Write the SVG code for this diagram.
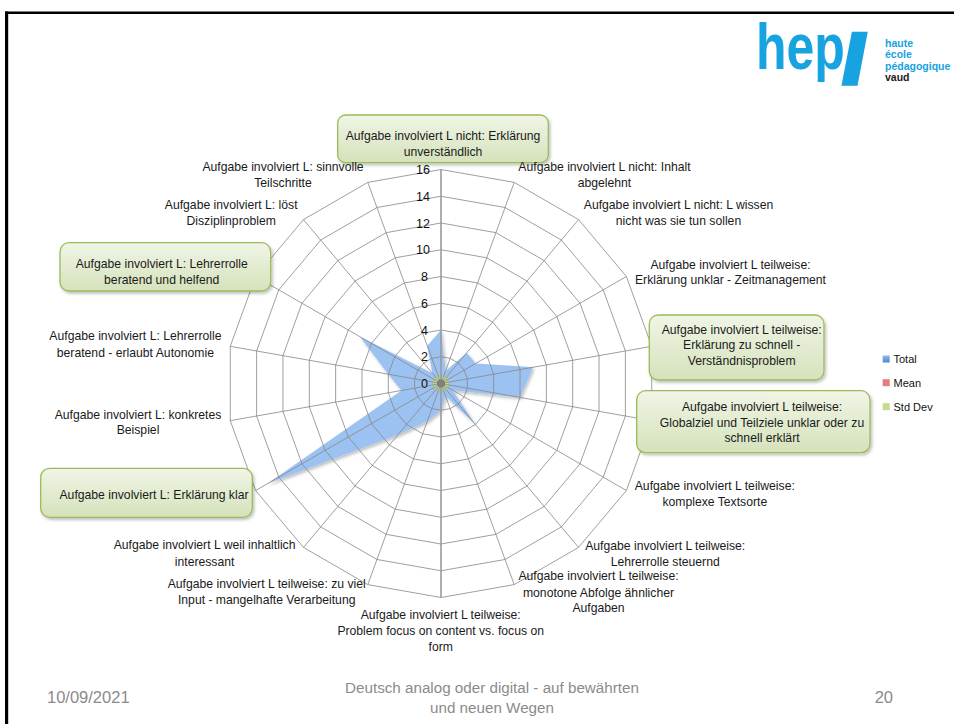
<svg xmlns="http://www.w3.org/2000/svg" width="954" height="724" viewBox="0 0 954 724">
<style>
.lbl{font-family:"Liberation Sans",Arial,sans-serif;font-size:12.2px;fill:#1a1a1a;text-anchor:middle}
.box{fill:url(#boxg);stroke:#9bbb59;stroke-width:1.3;filter:url(#sh)}
.spoke{stroke:#868686;stroke-width:0.8;fill:none}
.val{font-family:"Liberation Sans",Arial,sans-serif;font-size:12.5px;fill:#111;text-anchor:end}
.leg{font-family:"Liberation Sans",Arial,sans-serif;font-size:11px;fill:#111}
.foot{font-family:"Liberation Sans",Arial,sans-serif;font-size:15.2px;fill:#8b8b8b}
.logos{font-family:"Liberation Sans",Arial,sans-serif;font-size:10.5px;font-weight:bold;fill:#17a2e0}
</style>
<defs>
<linearGradient id="boxg" x1="0" y1="0" x2="0" y2="1">
<stop offset="0" stop-color="#f0f5e6"/>
<stop offset="1" stop-color="#d5e2bb"/>
</linearGradient>
<linearGradient id="blue" gradientUnits="userSpaceOnUse" x1="0" y1="330" x2="0" y2="484">
<stop offset="0" stop-color="#9cc2f2"/>
<stop offset="0.4" stop-color="#7eaeea"/>
<stop offset="1" stop-color="#2f70cc"/>
</linearGradient>
<linearGradient id="legb" x1="0" y1="0" x2="0" y2="1">
<stop offset="0" stop-color="#8fb8ee"/>
<stop offset="1" stop-color="#4a86d4"/>
</linearGradient>
<filter id="sh" x="-10%" y="-10%" width="130%" height="140%">
<feDropShadow dx="1.5" dy="2" stdDeviation="1.5" flood-color="#000" flood-opacity="0.25"/>
</filter>
<polygon id="ring" fill="none" stroke="#868686" stroke-width="0.8" vector-effect="non-scaling-stroke" points="0,-26.75 9.15,-25.14 17.19,-20.49 23.17,-13.38 26.34,-4.65 26.34,4.65 23.17,13.38 17.19,20.49 9.15,25.14 0,26.75 -9.15,25.14 -17.19,20.49 -23.17,13.38 -26.34,4.65 -26.34,-4.65 -23.17,-13.38 -17.19,-20.49 -9.15,-25.14"/>
</defs>
<rect width="954" height="724" fill="#fff"/>
<g id="frame" stroke="#000" fill="none">
<line x1="5" y1="12.8" x2="954" y2="12.8" stroke-width="2.4"/>
<line x1="6.6" y1="11.6" x2="6.6" y2="724" stroke-width="3.2"/>
</g>
<g id="logo">
<text transform="translate(756,68.5) scale(0.78,1)" x="0" y="0" font-family="'Liberation Sans',Arial,sans-serif" font-size="64" font-weight="bold" fill="#17a2e0">hep</text>
<text x="846" y="80" font-family="'Liberation Sans',Arial,sans-serif" font-size="62" font-weight="bold" fill="#17a2e0" stroke="#17a2e0" stroke-width="8.5">/</text>
<text class="logos" x="885" y="46.8">haute</text>
<text class="logos" x="885" y="58.3">école</text>
<text class="logos" x="885" y="69.8">pédagogique</text>
<text class="logos" x="885" y="81.3" style="fill:#1d1d1b">vaud</text>
</g>
<g id="chart" transform="translate(441,383.5)">
<g id="series">
<polygon id="total" fill="url(#blue)" filter="url(#sh)" points="0,-53.5 4.57,-12.57 25.79,-30.74 34.75,-20.06 92.2,-16.26 79.03,13.94 11.58,6.69 34.39,40.98 4.57,12.57 0,26.75 -13.72,37.71 -42.99,51.23 -173.75,100.31 -39.52,6.97 -52.69,-9.29 -81.08,-46.81 -8.6,-10.25 -13.72,-37.71"/>
<polygon id="stddev" fill="#c6dc8e" stroke="#a9c660" stroke-width="0.6" points="0,-9 2.4,-6.6 5.8,-6.9 5.5,-3.2 8.9,-1.6 6.9,1.2 7.8,4.5 3.9,4.6 3.1,8.5 0,6 -3.1,8.5 -3.9,4.6 -7.8,4.5 -6.9,1.2 -8.9,-1.6 -5.5,-3.2 -5.8,-6.9 -2.4,-6.6"/>
</g>
<g id="grid">
<use href="#ring"/>
<use href="#ring" transform="scale(2)"/>
<use href="#ring" transform="scale(3)"/>
<use href="#ring" transform="scale(4)"/>
<use href="#ring" transform="scale(5)"/>
<use href="#ring" transform="scale(6)"/>
<use href="#ring" transform="scale(7)"/>
<use href="#ring" transform="scale(8)"/>
<path class="spoke" d="M0,0L73.19,-201.09M0,0L137.56,-163.93M0,0L185.33,-107M0,0L210.75,-37.16M0,0L210.75,37.16M0,0L185.33,107M0,0L137.56,163.93M0,0L73.19,201.09M0,0L-73.19,201.09M0,0L-137.56,163.93M0,0L-185.33,107M0,0L-210.75,37.16M0,0L-210.75,-37.16M0,0L-185.33,-107M0,0L-137.56,-163.93M0,0L-73.19,-201.09"/>
<line x1="0" y1="-214" x2="0" y2="214" stroke="#9a9a9a" stroke-width="1.6"/>
<circle r="4" fill="#808080"/>
</g>
<g id="axis-values">
<text class="val" x="-13" y="4.5">0</text>
<text class="val" x="-13" y="-22.25">2</text>
<text class="val" x="-13" y="-49">4</text>
<text class="val" x="-13" y="-75.75">6</text>
<text class="val" x="-13" y="-102.5">8</text>
<text class="val" x="-11" y="-129.25">10</text>
<text class="val" x="-11" y="-156">12</text>
<text class="val" x="-11" y="-182.75">14</text>
<text class="val" x="-11" y="-209.5">16</text>
</g>
</g>
<g id="labels">
<g id="l0"><rect class="box" x="337.7" y="115" width="210.6" height="47.7" rx="8"/><text class="lbl" x="443" y="140">Aufgabe involviert L nicht: Erklärung</text><text class="lbl" x="443" y="156">unverständlich</text></g>
<g id="l1"><text class="lbl" x="604.5" y="171">Aufgabe involviert L nicht: Inhalt</text><text class="lbl" x="604.5" y="187">abgelehnt</text></g>
<g id="l2"><text class="lbl" x="678.5" y="209.3">Aufgabe involviert L nicht: L wissen</text><text class="lbl" x="678.5" y="225">nicht was sie tun sollen</text></g>
<g id="l3"><text class="lbl" x="730.5" y="268.6">Aufgabe involviert L teilweise:</text><text class="lbl" x="730.5" y="284.3">Erklärung unklar - Zeitmanagement</text></g>
<g id="l4"><rect class="box" x="649.3" y="315" width="174.7" height="65" rx="9"/><text class="lbl" x="741.7" y="333.6">Aufgabe involviert L teilweise:</text><text class="lbl" x="741.7" y="349.3">Erklärung zu schnell -</text><text class="lbl" x="741.7" y="365.3">Verständnisproblem</text></g>
<g id="l5"><rect class="box" x="636.7" y="390.7" width="233.3" height="62" rx="9"/><text class="lbl" x="762" y="411">Aufgabe involviert L teilweise:</text><text class="lbl" x="762" y="426.6">Globalziel und Teilziele unklar oder zu</text><text class="lbl" x="762" y="442">schnell erklärt</text></g>
<g id="l6"><text class="lbl" x="714.8" y="490">Aufgabe involviert L teilweise:</text><text class="lbl" x="714.8" y="506">komplexe Textsorte</text></g>
<g id="l7"><text class="lbl" x="665.2" y="550.3">Aufgabe involviert L teilweise:</text><text class="lbl" x="665.2" y="566">Lehrerrolle steuernd</text></g>
<g id="l8"><text class="lbl" x="598.5" y="580">Aufgabe involviert L teilweise:</text><text class="lbl" x="598.5" y="596.6">monotone Abfolge ähnlicher</text><text class="lbl" x="598.5" y="612">Aufgaben</text></g>
<g id="l9"><text class="lbl" x="440.7" y="619.3">Aufgabe involviert L teilweise:</text><text class="lbl" x="440.7" y="635.3">Problem focus on content vs. focus on</text><text class="lbl" x="440.7" y="651">form</text></g>
<g id="l10"><text class="lbl" x="266.7" y="587.6">Aufgabe involviert L teilweise: zu viel</text><text class="lbl" x="266.7" y="603.6">Input - mangelhafte Verarbeitung</text></g>
<g id="l11"><text class="lbl" x="204.6" y="549.3">Aufgabe involviert L weil inhaltlich</text><text class="lbl" x="204.6" y="566">interessant</text></g>
<g id="l12"><rect class="box" x="40.7" y="468.3" width="211.6" height="49" rx="9"/><text class="lbl" x="154" y="499.3">Aufgabe involviert L: Erklärung klar</text></g>
<g id="l13"><text class="lbl" x="138" y="419.3">Aufgabe involviert L: konkretes</text><text class="lbl" x="138" y="434.3">Beispiel</text></g>
<g id="l14"><text class="lbl" x="135.4" y="340.3">Aufgabe involviert L: Lehrerrolle</text><text class="lbl" x="135.4" y="357">beratend - erlaubt Autonomie</text></g>
<g id="l15"><rect class="box" x="60" y="242.7" width="210.7" height="48.3" rx="9"/><text class="lbl" x="161.7" y="268.3">Aufgabe involviert L: Lehrerrolle</text><text class="lbl" x="161.7" y="283.6">beratend und helfend</text></g>
<g id="l16"><text class="lbl" x="231.2" y="209.3">Aufgabe involviert L: löst</text><text class="lbl" x="231.2" y="225">Disziplinproblem</text></g>
<g id="l17"><text class="lbl" x="283" y="171">Aufgabe involviert L: sinnvolle</text><text class="lbl" x="283" y="186.6">Teilschritte</text></g>
</g>
<g id="legend">
<rect x="882.7" y="355.5" width="7" height="7" fill="url(#legb)"/>
<text class="leg" x="893.5" y="363">Total</text>
<rect x="882.7" y="379.2" width="7" height="7" fill="#e57d7b"/>
<text class="leg" x="893.5" y="386.7">Mean</text>
<rect x="882.7" y="403.2" width="7" height="7" fill="#c5dc90"/>
<text class="leg" x="893.5" y="410.7">Std Dev</text>
</g>
<g id="footer">
<text class="foot" x="47" y="703" style="font-size:16.5px">10/09/2021</text>
<text class="foot" x="492" y="693" text-anchor="middle">Deutsch analog oder digital - auf bewährten</text>
<text class="foot" x="492" y="713" text-anchor="middle">und neuen Wegen</text>
<text class="foot" x="893" y="703" text-anchor="end" style="font-size:16.5px">20</text>
</g>
</svg>
